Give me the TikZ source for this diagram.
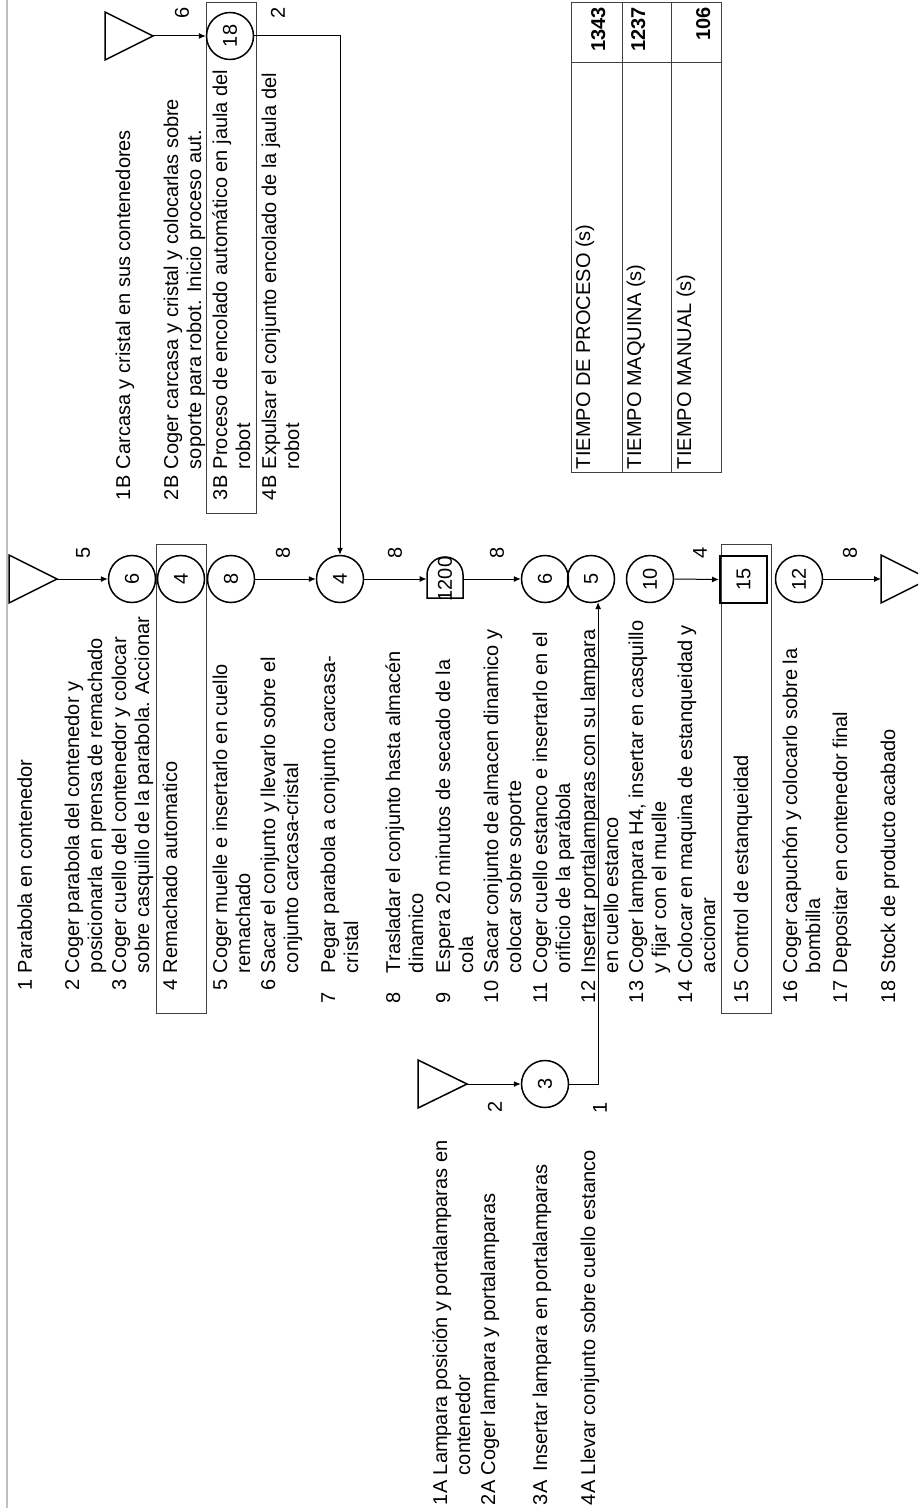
\documentclass[tikz,border=0pt]{standalone}
\usepackage{fontspec}
\setmainfont{Liberation Sans}
\usetikzlibrary{arrows.meta}
\newcommand{\Itm}[3]{\begin{tabular}[t]{@{}p{#1}@{}l@{}}#2&#3\end{tabular}}
\newcommand{\Rt}[1]{\rotatebox{90}{#1}}
\begin{document}
\begin{tikzpicture}[x=0.5pt,y=-0.5pt,
  txt/.style={font=\fontsize{10}{11.5}\selectfont},
  itm/.style={txt, rotate=90, anchor=base west, inner sep=0pt, outer sep=0pt},
  num/.style={font=\fontsize{10}{11.5}\selectfont\bfseries, rotate=90, anchor=base east, inner sep=0pt, outer sep=0pt},
  circ/.style={txt, circle, draw, line width=0.75pt, minimum size=23.5pt, inner sep=0pt},
  sq/.style={txt, rectangle, draw, line width=1pt, minimum size=23.5pt, inner sep=0pt},
  dnode/.style={txt, inner sep=0pt, minimum width=18pt, minimum height=21pt},
  lbl/.style={txt, inner sep=0pt},
  frame/.style={draw=black!75, line width=0.5pt},
  arr/.style={-{Latex[length=3.5pt,width=3pt]}, line width=0.5pt},
  tri/.style={draw, line width=0.75pt, line join=miter}]
\useasboundingbox (0,0) rectangle (918,1508);
\fill[white] (0,0) rectangle (918,1508);
\clip (0,0) rectangle (918,1508);
\draw[black!25, line width=0.75pt] (7,0) -- (7,1508);

% frames
\draw[frame] (206,3) rectangle (256,513);
\draw[frame] (156,544) rectangle (206,1013);
\draw[frame] (721,544) rectangle (771,1013);

% table
\draw[frame] (571,3) rectangle (721,472);
\draw[frame] (622,3) -- (622,472);
\draw[frame] (671,3) -- (671,472);
\draw[frame] (571,63) -- (721,63);
\node[itm] (tp) at (590,469) {TIEMPO DE PROCESO (s)};
\node[itm] (tm) at (641,469) {TIEMPO MAQUINA (s)};
\node[itm] (tn) at (691,469) {TIEMPO MANUAL (s)};
\node[num] (np) at (605,7) {1343};
\node[num] (nm) at (645,7) {1237};
\node[num] (nn) at (710,7) {106};

% triangles
\draw[tri] (105,12) -- (153,36) -- (105,60) -- cycle;
\coordinate (tB) at (153,36);
\draw[tri] (9,555) -- (57,579) -- (9,603) -- cycle;
\coordinate (t1) at (57,579);
\draw[tri] (418,1060) -- (467,1084) -- (418,1108) -- cycle;
\coordinate (tA) at (467,1084);
\draw[tri] (881,555) -- (929,579) -- (881,603) -- cycle;
\coordinate (tE) at (881,579);

% circles
\node[circ] (c18) at (230,36) {\Rt{18}};
\node[circ] (c6a) at (132,579) {\Rt{6}};
\node[circ] (c4a) at (181,579) {\Rt{4}};
\node[circ] (c8) at (231,579) {\Rt{8}};
\node[circ] (c4b) at (340,579) {\Rt{4}};
\node[circ] (c6b) at (545,579) {\Rt{6}};
\node[circ] (c5) at (591,579) {\Rt{5}};
\node[circ] (c10) at (650,579) {\Rt{10}};
\node[sq] (b15) at (743.5,579.5) {\Rt{15}};
\node[circ] (c12) at (799,579) {\Rt{12}};
\node[circ] (c3) at (545,1084) {\Rt{3}};

% delay
\draw[line width=0.75pt] (427,598) -- (427,575)
  .. controls (427,565.06) and (435.06,557) .. (445,557)
  .. controls (454.94,557) and (463,565.06) .. (463,575)
  -- (463,598) -- cycle;
\node[dnode] (d) at (445,579) {\Rt{1200}};

% connectors
\draw[arr] (tB) -- (c18.west);
\draw[arr] (c18.east) -| (c4b.north);
\draw[arr] (t1) -- (c6a.west);
\draw[arr] (c8.east) -- (c4b.west);
\draw[arr] (c4b.east) -- (d.west);
\draw[arr] (d.east) -- (c6b.west);
\draw[arr] (tA) -- (c3.west);
\draw[arr] (c3.east) -| (c5.-73);
\draw[arr] (c10.east) -- (b15.west);
\draw[arr] (c12.east) -- (tE);

% labels
\node[lbl] (l6) at (182,13) {\Rt{6}};
\node[lbl] (l2) at (278,13) {\Rt{2}};
\node[lbl] (l5) at (83,553) {\Rt{5}};
\node[lbl] (l8a) at (283,553) {\Rt{8}};
\node[lbl] (l8b) at (395,553) {\Rt{8}};
\node[lbl] (l8c) at (497,553) {\Rt{8}};
\node[lbl] (l4) at (700,553) {\Rt{4}};
\node[lbl] (l8d) at (850,553) {\Rt{8}};
\node[lbl] (l2a) at (495,1107) {\Rt{2}};
\node[lbl] (l1a) at (600,1108) {\Rt{1}};

% B items
\node[itm] (b1) at (130,500) {\Itm{15.5pt}{1B}{Carcasa y cristal en sus contenedores}};
\node[itm] (b2) at (178,500) {\Itm{15.5pt}{2B}{Coger carcasa y cristal y colocarlas sobre\\&soporte para robot. Inicio proceso aut.}};
\node[itm] (b3) at (227,500) {\Itm{15.5pt}{3B}{Proceso de encolado automático en jaula del\\&robot}};
\node[itm] (b4) at (276,500) {\Itm{15.5pt}{4B}{Expulsar el conjunto encolado de la jaula del\\&robot}};

% main items
\node[itm] (i1) at (32,990) {\Itm{8.5pt}{1}{Parabola en contenedor}};
\node[itm] (i2) at (79,990) {\Itm{8.5pt}{2}{Coger parabola del contenedor y\\&posicionarla en prensa de remachado}};
\node[itm] (i3) at (126,990) {\Itm{8.5pt}{3}{Coger cuello del contenedor y colocar\\&sobre casquillo de la parabola. Accionar}};
\node[itm] (i4) at (177,990) {\Itm{8.5pt}{4}{Remachado automatico}};
\node[itm] (i5) at (227,990) {\Itm{8.5pt}{5}{Coger muelle e insertarlo en cuello\\&remachado}};
\node[itm] (i6) at (275,990) {\Itm{8.5pt}{6}{Sacar el conjunto y llevarlo sobre el\\&conjunto carcasa-cristal}};
\node[itm] (i7) at (335,1003) {\Itm{15pt}{7}{Pegar parabola a conjunto carcasa-\\&cristal}};
\node[itm] (i8) at (400,1003) {\Itm{15pt}{8}{Trasladar el conjunto hasta almacén\\&dinamico}};
\node[itm] (i9) at (450,1003) {\Itm{15pt}{9}{Espera 20 minutos de secado de la\\&cola}};
\node[itm] (i10) at (498,1003) {\Itm{15pt}{10}{Sacar conjunto de almacen dinamico y\\&colocar sobre soporte}};
\node[itm] (i11) at (547,1003) {\Itm{15pt}{11}{Coger cuello estanco e insertarlo en el\\&orificio de la parábola}};
\node[itm] (i12) at (595,1003) {\Itm{15pt}{12}{Insertar portalamparas con su lampara\\&en cuello estanco}};
\node[itm] (i13) at (643,1003) {\Itm{15pt}{13}{Coger lampara H4, insertar en casquillo\\&y fijar con el muelle}};
\node[itm] (i14) at (692,1003) {\Itm{15pt}{14}{Colocar en maquina de estanqueidad y\\&accionar}};
\node[itm] (i15) at (748,1003) {\Itm{15pt}{15}{Control de estanqueidad}};
\node[itm] (i16) at (797,1003) {\Itm{15pt}{16}{Coger capuchón y colocarlo sobre la\\&bombilla}};
\node[itm] (i17) at (847,1003) {\Itm{15pt}{17}{Depositar en contenedor final}};
\node[itm] (i18) at (895,1003) {\Itm{15pt}{18}{Stock de producto acabado}};

% A items
\node[itm] (a1) at (447,1505) {\Itm{15pt}{1A}{Lampara posición y portalamparas en\\&contenedor}};
\node[itm] (a2) at (495,1505) {\Itm{15pt}{2A}{Coger lampara y portalamparas}};
\node[itm] (a3) at (547,1505) {\Itm{15pt}{3A}{\hspace{2pt}Insertar lampara en portalamparas}};
\node[itm] (a4) at (595,1505) {\Itm{15pt}{4A}{Llevar conjunto sobre cuello estanco}};
\end{tikzpicture}
\end{document}
